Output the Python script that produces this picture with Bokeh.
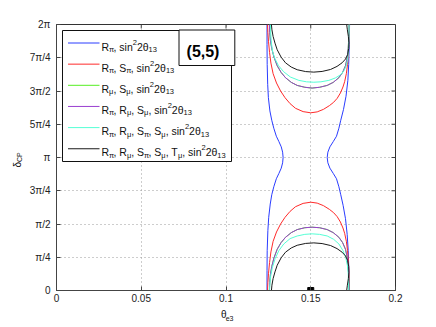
import math
from bokeh.plotting import figure
from bokeh.models import FixedTicker, ColumnDataSource, Range1d
from bokeh.layouts import row, column
from bokeh.embed import file_html
from bokeh.resources import INLINE
from bokeh.core.properties import value

# ---------------- data (x = theta_e3, y = delta_CP in units of pi) ----------------
X_TICKS = [0, 0.05, 0.1, 0.15, 0.2]
X_LABELS = ["0", "0.05", "0.1", "0.15", "0.2"]
Y_TICKS = [0, 0.25, 0.5, 0.75, 1.0, 1.25, 1.5, 1.75, 2.0]
Y_LABELS = ["0", "π/4", "π/2", "3π/4", "π", "5π/4", "3π/2", "7π/4", "2π"]

BLUE_L_X = [0.1242, 0.1242, 0.1243, 0.1247, 0.1252, 0.1261, 0.1270, 0.1282, 0.1297, 0.1312, 0.1326, 0.1334, 0.1337,
            0.1334, 0.1326, 0.1312, 0.1297, 0.1282, 0.1270, 0.1259, 0.1250, 0.1246, 0.1243, 0.1242, 0.1242]
BLUE_L_Y = [0, 0.15, 0.3, 0.45, 0.55, 0.65, 0.72, 0.78, 0.84, 0.88, 0.92, 0.96, 1.0,
            1.04, 1.08, 1.12, 1.16, 1.22, 1.28, 1.35, 1.45, 1.55, 1.7, 1.85, 2.0]
BLUE_R_X = [0.1727, 0.1725, 0.1721, 0.1715, 0.1705, 0.1691, 0.1677, 0.1666, 0.1652, 0.1633, 0.1613, 0.1601, 0.1597,
            0.1601, 0.1613, 0.1633, 0.1652, 0.1666, 0.1677, 0.1693, 0.1708, 0.1719, 0.1724, 0.1727, 0.1729]
BLUE_R_Y = [0, 0.15, 0.3, 0.42, 0.54, 0.64, 0.72, 0.78, 0.84, 0.88, 0.92, 0.96, 1.0,
            1.04, 1.08, 1.12, 1.16, 1.22, 1.28, 1.36, 1.46, 1.58, 1.7, 1.85, 2.0]

RED_X = [0.1245, 0.1247, 0.1251, 0.1257, 0.1265, 0.1278, 0.1298, 0.1322, 0.1348, 0.1378, 0.1410, 0.1455, 0.1500,
         0.1538, 0.1575, 0.1610, 0.1635, 0.1656, 0.1675, 0.1690, 0.1700, 0.1710, 0.1717, 0.1722, 0.1725, 0.1727, 0.1728]
RED_BOT_Y = [0, 0.06, 0.13, 0.21, 0.29, 0.37, 0.44, 0.50, 0.55, 0.595, 0.630, 0.655, 0.664,
             0.657, 0.638, 0.610, 0.585, 0.555, 0.515, 0.47, 0.43, 0.37, 0.30, 0.22, 0.14, 0.06, 0]
RED_TOP_Y = [2, 1.94, 1.87, 1.79, 1.71, 1.63, 1.56, 1.50, 1.45, 1.405, 1.370, 1.345, 1.336,
             1.343, 1.362, 1.390, 1.415, 1.445, 1.485, 1.53, 1.57, 1.63, 1.70, 1.78, 1.86, 1.94, 2]

PURPLE_X = [0.1256, 0.1258, 0.1262, 0.1270, 0.1283, 0.1302, 0.1325, 0.1351, 0.1385, 0.1420, 0.1465, 0.1508,
            0.1552, 0.1597, 0.1633, 0.1666, 0.1688, 0.1705, 0.1715, 0.1721, 0.1724, 0.1726, 0.1726]
PURPLE_BOT_Y = [0, 0.06, 0.12, 0.18, 0.245, 0.31, 0.36, 0.40, 0.435, 0.458, 0.472, 0.476,
                0.472, 0.458, 0.435, 0.40, 0.36, 0.31, 0.25, 0.18, 0.11, 0.05, 0]
PURPLE_TOP_Y = [2, 1.94, 1.88, 1.82, 1.755, 1.69, 1.64, 1.60, 1.565, 1.542, 1.528, 1.522,
                1.528, 1.542, 1.565, 1.60, 1.64, 1.69, 1.75, 1.82, 1.89, 1.95, 2]

CYAN_BOT_X = [0.1257, 0.1259, 0.1264, 0.1273, 0.1290, 0.1312, 0.1341, 0.1378, 0.1420, 0.1465, 0.1508,
              0.1552, 0.1597, 0.1635, 0.1666, 0.1690, 0.1706, 0.1716, 0.1721, 0.1723, 0.1724]
CYAN_BOT_Y = [0, 0.05, 0.11, 0.17, 0.24, 0.30, 0.35, 0.39, 0.41, 0.422, 0.426,
              0.422, 0.41, 0.385, 0.35, 0.30, 0.25, 0.19, 0.13, 0.06, 0]
CYAN_TOP_X = [0.1262, 0.1264, 0.1268, 0.1276, 0.1290, 0.1310, 0.1340, 0.1380, 0.1430, 0.1475, 0.1518,
              0.1560, 0.1607, 0.1645, 0.1676, 0.1697, 0.1711, 0.1719, 0.1723, 0.1725, 0.1726]
CYAN_TOP_Y = [2.0, 1.93, 1.86, 1.79, 1.74, 1.69, 1.645, 1.605, 1.58, 1.569, 1.566,
              1.569, 1.58, 1.598, 1.622, 1.655, 1.695, 1.75, 1.82, 1.90, 2.0]

BLACK_X = [0.1268, 0.1271, 0.1278, 0.1289, 0.1302, 0.1325, 0.1351, 0.1385, 0.1420, 0.1470, 0.1518,
           0.1567, 0.1617, 0.1655, 0.1685, 0.1705, 0.1718, 0.1724, 0.1725, 0.1722, 0.1716, 0.1712]
BLACK_BOT_Y = [0, 0.04, 0.09, 0.14, 0.19, 0.245, 0.288, 0.32, 0.34, 0.354, 0.358,
               0.353, 0.338, 0.315, 0.288, 0.26, 0.225, 0.18, 0.138, 0.09, 0.04, 0]
BLACK_TOP_Y = [2.0, 1.96, 1.91, 1.86, 1.81, 1.755, 1.712, 1.68, 1.66, 1.646, 1.642,
               1.647, 1.662, 1.685, 1.712, 1.74, 1.775, 1.82, 1.862, 1.91, 1.96, 2.0]

MARK_X = [0.15]
MARK_Y = [0.0]

# legend entries as (text, kind) runs: n = normal, b = subscript, p = superscript
SIN = [(", sin", "n"), ("2", "p"), ("2θ", "n"), ("13", "b")]
LEGEND_ROWS = [
    [("R", "n"), ("π", "b")] + SIN,
    [("R", "n"), ("π", "b"), (", S", "n"), ("π", "b")] + SIN,
    [("R", "n"), ("μ", "b"), (", S", "n"), ("μ", "b")] + SIN,
    [("R", "n"), ("π", "b"), (", R", "n"), ("μ", "b"), (", S", "n"), ("μ", "b")] + SIN,
    [("R", "n"), ("π", "b"), (", R", "n"), ("μ", "b"), (", S", "n"), ("π", "b"), (", S", "n"), ("μ", "b")] + SIN,
    [("R", "n"), ("π", "b"), (", R", "n"), ("μ", "b"), (", S", "n"), ("π", "b"), (", S", "n"), ("μ", "b"),
     (", T", "n"), ("μ", "b")] + SIN,
]
X_TITLE = [("θ", "n"), ("e3", "b")]
Y_TITLE = [("δ", "n"), ("CP", "b")]
PANEL_TAG = "(5,5)"

BLUE, RED, GREEN, PURPLE, CYAN, BLACK = "#2a3cff", "#ff2a2a", "#55ee22", "#9a3fd0", "#55ffd5", "#1a1a1a"
LEGEND_COLORS = [BLUE, RED, GREEN, PURPLE, CYAN, BLACK]

# ---------------- layout helpers (page pixel geometry) ----------------
FONT = "Liberation Sans"
M = 0                      # effective page offset of the layout
YLAB_W = 24                # width of the y-title strip
FX0, FY0 = 56, 24          # page px of frame top-left
FW, FH = 339, 266
BL, BR, BT, BB = FX0 - M - YLAB_W, 33, FY0 - M, 16
PW = BL + FW + BR
PH = BT + FH + BB
XLAB_H = 18


def dx(px):
    return (px - FX0) * 0.2 / FW


def dy(py):
    return (FY0 + FH - py) * 2.0 / FH


CW = {'R': .722, 'S': .667, 'T': .611, ',': .278, ' ': .278, 's': .5, 'i': .222, 'n': .556, '2': .556,
      'θ': .556, '1': .556, '3': .556, 'π': .59, 'μ': .577, 'δ': .556, 'C': .722, 'P': .667, 'e': .556}


def tw(s, size):
    return sum(CW.get(c, .556) for c in s) * size


def runs(segs, x0, base, main=10, small=7, sub=2.8, sup=-4.2):
    """lay out rich-text runs left to right; returns page-px anchors."""
    out = []
    cur = x0
    for t, kind in segs:
        size = main if kind == "n" else small
        off = 0 if kind == "n" else (sub if kind == "b" else sup)
        out.append((cur, base + off, t, f"{size}px"))
        cur += tw(t, size)
    return out


p = figure(width=PW, height=PH, x_range=Range1d(0, 0.2), y_range=Range1d(0, 2),
           output_backend="svg", toolbar_location=None,
           min_border_left=BL, min_border_right=BR, min_border_top=BT, min_border_bottom=BB)
p.background_fill_color = "white"
p.border_fill_color = "white"
p.outline_line_color = "#333333"

for ax in (p.xaxis, p.yaxis):
    ax.major_tick_in = 4
    ax.major_tick_out = 0
    ax.minor_tick_line_color = None
    ax.axis_line_color = "#444444"
    ax.major_tick_line_color = "#444444"
    ax.major_label_text_font = FONT
    ax.major_label_text_font_size = "10px"
    ax.major_label_text_color = "#222222"
p.xaxis.ticker = FixedTicker(ticks=X_TICKS)
p.xaxis.major_label_overrides = {t: l for t, l in zip(X_TICKS, X_LABELS)}
p.xaxis.major_label_standoff = 3
p.yaxis.ticker = FixedTicker(ticks=Y_TICKS)
p.yaxis.major_label_overrides = {t: l for t, l in zip(Y_TICKS, Y_LABELS)}
p.yaxis.major_label_standoff = 6

p.xgrid.ticker = FixedTicker(ticks=X_TICKS)
p.ygrid.ticker = FixedTicker(ticks=Y_TICKS)
p.grid.grid_line_color = "#9a9a9a"
p.grid.grid_line_dash = "1 3"
p.grid.grid_line_width = 1

# inward ticks on the top and right edges of the box
tk = 4
p.segment(x0=X_TICKS, x1=X_TICKS, y0=[2.0] * len(X_TICKS), y1=[2.0 - tk * 2.0 / FH] * len(X_TICKS),
          line_color="#444444", line_width=1)
p.segment(x0=[0.2] * len(Y_TICKS), x1=[0.2 - tk * 0.2 / FW] * len(Y_TICKS), y0=Y_TICKS, y1=Y_TICKS,
          line_color="#444444", line_width=1)

# ---------------- curves ----------------
p.line(BLUE_L_X, BLUE_L_Y, line_color=BLUE, line_width=1)
p.line(BLUE_R_X, BLUE_R_Y, line_color=BLUE, line_width=1)
p.line(RED_X, RED_BOT_Y, line_color=RED, line_width=1)
p.line(RED_X, RED_TOP_Y, line_color=RED, line_width=1)
p.line(PURPLE_X, PURPLE_BOT_Y, line_color=GREEN, line_width=1)
p.line(PURPLE_X, PURPLE_TOP_Y, line_color=GREEN, line_width=1)
p.line(PURPLE_X, PURPLE_BOT_Y, line_color=PURPLE, line_width=1)
p.line(PURPLE_X, PURPLE_TOP_Y, line_color=PURPLE, line_width=1)
p.line(CYAN_BOT_X, CYAN_BOT_Y, line_color=CYAN, line_width=1)
p.line(CYAN_TOP_X, CYAN_TOP_Y, line_color=CYAN, line_width=1)
p.line(BLACK_X, BLACK_BOT_Y, line_color=BLACK, line_width=1)
p.line(BLACK_X, BLACK_TOP_Y, line_color=BLACK, line_width=1)
p.scatter(MARK_X, MARK_Y, marker="square", size=6, color="black")

# ---------------- legend box ----------------
p.quad(left=[dx(62)], right=[dx(231)], bottom=[dy(161)], top=[dy(30)],
       fill_color="white", line_color="#111111", line_width=1)

tx, ty, tt, tf = [], [], [], []
for i, (segs, col) in enumerate(zip(LEGEND_ROWS, LEGEND_COLORS)):
    ly = 42.5 + 21.15 * i
    p.segment(x0=[dx(67.5)], x1=[dx(99)], y0=[dy(ly)], y1=[dy(ly)], line_color=col, line_width=1)
    for (x, y, t, f) in runs(segs, 101.0, ly + 3.5, main=10.5, small=7.5, sub=2.9, sup=-4.4):
        tx.append(dx(x)); ty.append(dy(y)); tt.append(t); tf.append(f)
p.text(x="x", y="y", text="text", text_font_size="fs", text_font=value(FONT), text_color="#111111",
       text_baseline="alphabetic", text_align="left",
       source=ColumnDataSource(dict(x=tx, y=ty, text=tt, fs=tf)))

# ---------------- (5,5) box ----------------
p.quad(left=[dx(178.5)], right=[dx(234.3)], bottom=[dy(65)], top=[dy(29.5)],
       fill_color="white", line_color="#111111", line_width=1)
p.text(x=[dx(202.5)], y=[dy(50.5)], text=[PANEL_TAG], text_font=value(FONT), text_font_size="16px",
       text_font_style="bold", text_color="black", text_align="center", text_baseline="alphabetic")

# ---------------- axis titles (separate strips so they are not clipped) ----------------
def strip(w, h):
    f = figure(width=w, height=h, x_range=Range1d(0, w), y_range=Range1d(h, 0),
               output_backend="svg", toolbar_location=None, min_border=0,
               x_axis_location=None, y_axis_location=None)
    f.outline_line_color = None
    f.grid.visible = False
    f.background_fill_color = "white"
    f.border_fill_color = "white"
    return f


# x title strip: page origin (M + YLAB_W, M + PH)
xs = strip(PW, XLAB_H)
ox, oy = M + YLAB_W, M + PH
r = runs(X_TITLE, 220.0, 313.5, sub=4.0)
xs.text(x=[a[0] - ox for a in r], y=[a[1] - oy for a in r], text=[a[2] for a in r],
        text_font_size=[a[3] for a in r], text_font=value(FONT), text_color="#111111",
        text_baseline="alphabetic", text_align="left")

# y title strip: page origin (M, M); text runs bottom-to-top
ys = strip(YLAB_W, PH)
ox, oy = M, M
yd = []
cur = 167.0
for t, kind in Y_TITLE:
    size = 10 if kind == "n" else 7
    bx = 16.5 if kind == "n" else 19.3
    yd.append((bx - ox, cur - oy, t, f"{size}px"))
    cur -= tw(t, size)
ys.text(x=[a[0] for a in yd], y=[a[1] for a in yd], text=[a[2] for a in yd],
        text_font_size=[a[3] for a in yd], text_font=value(FONT), text_color="#111111",
        text_baseline="alphabetic", text_align="left", angle=math.pi / 2)

layout = row(ys, column(p, xs))
open("out.html", "w").write(file_html(layout, INLINE))
